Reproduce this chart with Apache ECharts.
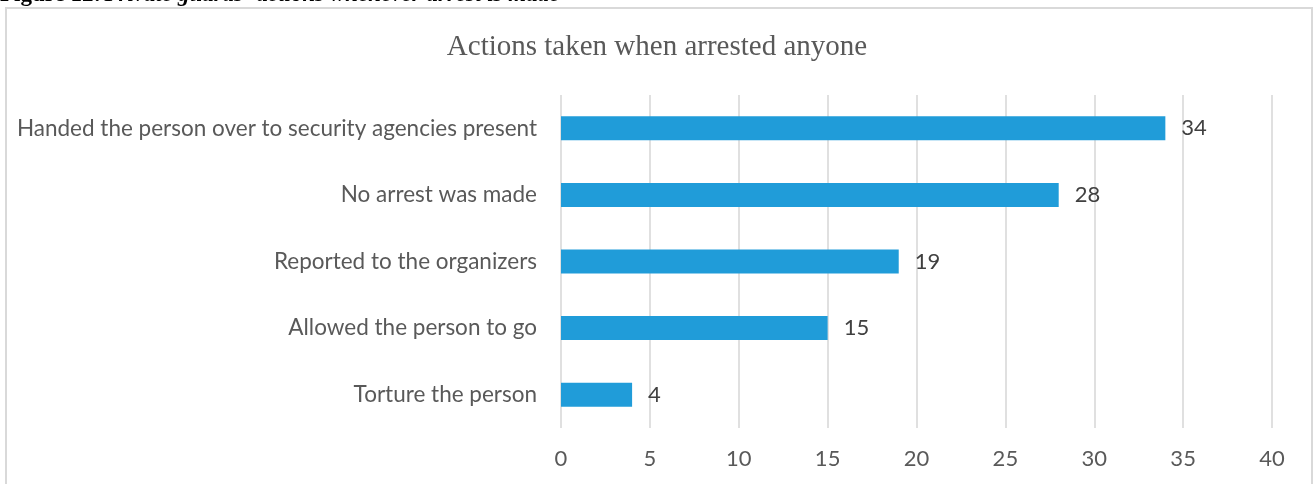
<!DOCTYPE html>
<html>
<head>
<meta charset="utf-8">
<script src="https://cdn.jsdelivr.net/npm/echarts@6/dist/echarts.min.js"></script>
<style>
  html, body { margin: 0; padding: 0; background: #ffffff; }
  #chart { width: 1314px; height: 484px; }
</style>
</head>
<body>
<div id="chart"></div>
<script>
// Responses, listed bottom to top as the category axis draws them
const categories = [
  'Torture the person',
  'Allowed the person to go',
  'Reported to the organizers',
  'No arrest was made',
  'Handed the person over to security agencies present'
];
const counts = [4, 15, 19, 28, 34];
const valueTicks = [0, 5, 10, 15, 20, 25, 30, 35, 40];

const chart = echarts.init(document.getElementById('chart'), null, { renderer: 'canvas' });

chart.setOption({
  backgroundColor: '#ffffff',
  animation: false,
  graphic: [
    {
      type: 'rect',
      shape: { x: 6, y: 8, width: 1306, height: 490 },
      style: { fill: 'none', stroke: '#d9d9d9', lineWidth: 2 }
    },
    {
      type: 'text',
      x: 0,
      y: 7,
      style: {
        text: '{b|Figure 12:} {bi|Private guards\u2019 actions whenever arrest is made}',
        verticalAlign: 'bottom',
        rich: {
          b: { fontFamily: 'Liberation Serif', fontWeight: 'bold', fontSize: 23, fill: '#000' },
          bi: { fontFamily: 'Liberation Serif', fontWeight: 'bold', fontStyle: 'italic', fontSize: 23, fill: '#000' }
        }
      },
      z: -1
    }
  ],
  title: {
    text: 'Actions taken when arrested anyone',
    left: 'center',
    top: 28,
    textStyle: {
      fontFamily: 'Liberation Serif',
      fontWeight: 'normal',
      fontSize: 29,
      color: '#595959'
    }
  },
  grid: { left: 561, right: 42, top: 95, bottom: 56, containLabel: false },
  xAxis: {
    type: 'value',
    min: 0,
    max: 40,
    interval: 5,
    axisLine: { show: false },
    axisTick: { show: false },
    splitLine: { show: true, lineStyle: { color: '#e0e0e0', width: 2 } },
    axisLabel: {
      margin: 20,
      fontFamily: 'Lato',
      fontSize: 22,
      color: '#595959',
      formatter: v => valueTicks.includes(v) ? String(v) : ''
    }
  },
  yAxis: {
    type: 'category',
    data: categories,
    axisLine: { show: false },
    axisTick: { show: false },
    axisLabel: {
      margin: 24,
      fontFamily: 'Lato',
      fontSize: 22.5,
      color: '#595959'
    }
  },
  series: [{
    type: 'bar',
    data: counts,
    barWidth: 24,
    itemStyle: { color: '#209cd9' },
    label: {
      show: true,
      position: 'right',
      distance: 16,
      fontFamily: 'Lato',
      fontSize: 22,
      color: '#404040'
    }
  }]
});
</script>
</body>
</html>
